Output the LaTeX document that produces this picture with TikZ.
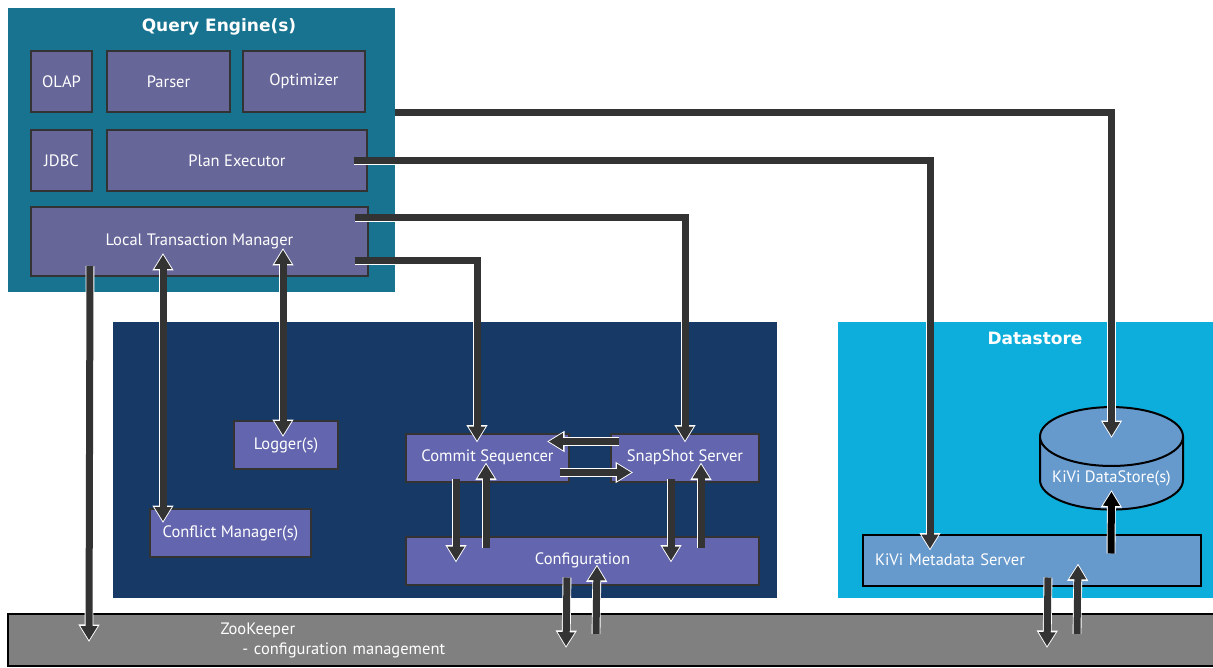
\documentclass[tikz,border=0pt]{standalone}
\usepackage{fontspec}
\setmainfont{PT Sans}
\newfontfamily\ttlfont{DejaVu Sans}
\usepackage{xcolor}
\usetikzlibrary{arrows.meta,shapes.geometric}

\definecolor{qeteal}{HTML}{177390}
\definecolor{qepurple}{HTML}{666699}
\definecolor{tmnavy}{HTML}{173966}
\definecolor{tmpurple}{HTML}{6366AE}
\definecolor{dscyan}{HTML}{0DAEDB}
\definecolor{kivi}{HTML}{6699CC}
\definecolor{zkgray}{HTML}{808080}
\definecolor{edge}{HTML}{333333}
\definecolor{pipegray}{HTML}{333333}

\tikzset{
  lbl/.style={text=white, font=\fontsize{16.5pt}{19pt}\selectfont},
  ttl/.style={text=white, font=\ttlfont\bfseries\fontsize{17pt}{20pt}\selectfont},
  area/.style={fill=#1, inner sep=0pt},
  qblk/.style={lbl, draw=edge, line width=2pt, fill=qepurple, minimum height=61pt},
  tblk/.style={lbl, draw=edge, line width=2pt, fill=tmpurple, minimum height=48pt},
  intip/.tip={Triangle[length=14pt 0 0,width=16pt 0 0]},
  outtip/.tip={Triangle[length=17.5pt 0 0,width=20pt 0 0]},
  pipe/.style={line width=7pt, draw=pipegray, -intip, shorten >=1.8pt,
    preaction={draw=white, line width=8.8pt, -outtip, shorten >=0pt}},
  pipe/.default=pipegray,
  bpipe/.style={pipe, draw=black},
  dpipe/.style={line width=7pt, draw=pipegray, intip-intip, shorten >=1.8pt, shorten <=1.8pt,
    preaction={draw=white, line width=8.8pt, outtip-outtip, shorten >=0pt, shorten <=0pt}},
}

\begin{document}
\begin{tikzpicture}[x=1pt, y=-1pt]
  \useasboundingbox (0,0) rectangle (1213,668);

  % query engine
  \node[area=qeteal, minimum width=387pt, minimum height=284pt] (qe) at (201.5,150) {};
  \node[ttl] (qettl) at (219,27) {Query Engine(s)};
  \node[qblk, minimum width=61pt] (olap) at (61.5,81.5) {OLAP};
  \node[qblk, minimum width=123pt] (parse) at (168.5,81.5) {Parser};
  \node[qblk, minimum width=122pt] (opt) at (304,81.5) {Optimizer};
  \node[qblk, minimum width=61pt] (jdbc) at (61.5,160.5) {JDBC};
  \node[qblk, minimum width=260pt] (pe) at (237,160.5) {Plan Executor};
  \node[qblk, minimum width=337pt, minimum height=69pt] (ltm) at (199.5,241.5) {Local Transaction Manager};

  % transaction management
  \node[area=tmnavy, minimum width=664pt, minimum height=276pt] (tm) at (445,460) {};
  \node[tblk, minimum width=104pt] (log) at (286,445) {Logger(s)};
  \node[tblk, minimum width=161pt] (cm) at (230.5,533) {Conflict Manager(s)};
  \node[tblk, minimum width=163pt] (commit) at (487.5,457.5) {Commit Sequencer};
  \node[tblk, minimum width=148pt] (snap) at (685,457.5) {SnapShot Server};
  \node[tblk, minimum width=353pt] (cfg) at (582.5,560.5) {Configuration};

  % datastore
  \node[area=dscyan, minimum width=375pt, minimum height=276pt] (ds) at (1025.5,460) {};
  \node[ttl] (dsttl) at (1035,338) {Datastore};
  \node[lbl, draw=black, line width=2pt, fill=kivi, minimum height=51pt, minimum width=338pt,
    inner xsep=12pt, text width=314pt, align=left] (meta) at (1032,560) {KiVi Metadata Server};
  \node[lbl, cylinder, shape border rotate=90, aspect=0.47, draw=black, line width=2pt, fill=kivi,
    minimum width=143pt, minimum height=95pt] (cyl) at (1111.5,478) {KiVi DataStore(s)};

  % zookeeper
  \node[lbl, draw=black, line width=2pt, fill=zkgray, minimum width=1207pt, minimum height=52pt,
    text width=1180pt, align=left, font=\fontsize{16.5pt}{20pt}\selectfont] (zk) at (611.5,640)
    {\hspace*{199pt}ZooKeeper\\\hspace*{221pt}- configuration management};

  % connectors
  \draw[pipe] ([shift={(0,105)}]qe.north east) -| ([shift={(0,-40)}]cyl.center);
  \draw[pipe] ([shift={(-14,32)}]pe.north east) -| ([shift={(68,17)}]meta.north west);
  \draw[pipe] ([shift={(-14,12)}]ltm.north east) -| ([shift={(75,10)}]snap.north west);
  \draw[pipe] ([shift={(-14,55)}]ltm.north east) -| ([shift={(72,10)}]commit.north west);
  \draw[pipe] ([shift={(60,-11)}]ltm.south west) -- ([shift={(82,29)}]zk.north west);
  \draw[dpipe] ([shift={(133,-24)}]ltm.south west) -- ([shift={(14,15)}]cm.north west);
  \draw[dpipe] ([shift={(253,-29)}]ltm.south west) -- ([shift={(50,17)}]log.north west);
  \draw[pipe] ([shift={(9,9)}]snap.north west) -- ([shift={(-23,9)}]commit.north east);
  \draw[pipe] ([shift={(-10,-10)}]commit.south east) -- ([shift={(23,-10)}]snap.south west);
  \draw[pipe] ([shift={(51,-4)}]commit.south west) -- ([shift={(51,27)}]cfg.north west);
  \draw[pipe] ([shift={(81,12)}]cfg.north west) -- ([shift={(81,30)}]commit.north west);
  \draw[pipe] ([shift={(61,-4)}]snap.south west) -- ([shift={(266,27)}]cfg.north west);
  \draw[pipe] ([shift={(296,12)}]cfg.north west) -- ([shift={(91,30)}]snap.north west);
  \draw[pipe] ([shift={(162,-8)}]cfg.south west) -- ([shift={(559,35)}]zk.north west);
  \draw[pipe] ([shift={(589,21)}]zk.north west) -- ([shift={(192,-21)}]cfg.south west);
  \draw[pipe] ([shift={(186,-9)}]meta.south west) -- ([shift={(1040,35)}]zk.north west);
  \draw[pipe] ([shift={(1070,21)}]zk.north west) -- ([shift={(216,-23)}]meta.south west);
  \draw[bpipe] ([shift={(249,20)}]meta.north west) -- ([shift={(0,12)}]cyl.center);
\end{tikzpicture}
\end{document}
